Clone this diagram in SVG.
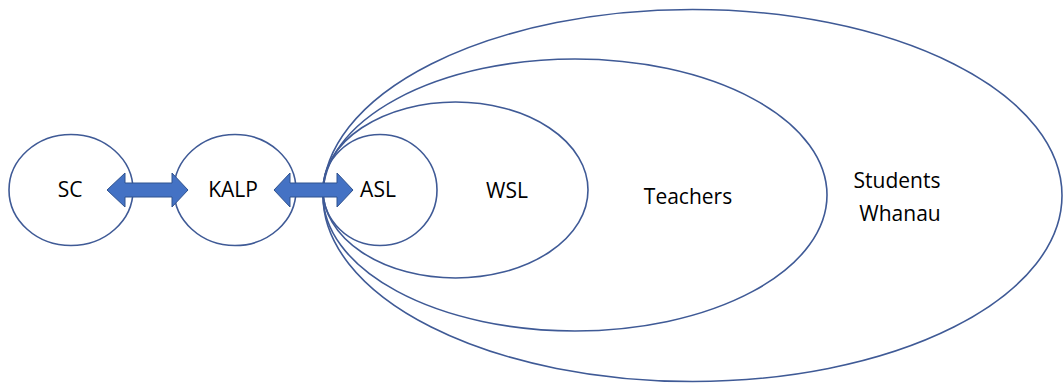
<svg xmlns="http://www.w3.org/2000/svg" width="1063" height="383" viewBox="0 0 1063 383">
<style>
.e{fill:none;stroke:#3F5A96;stroke-width:1.6}
.t{font-family:"Open Sans","Liberation Sans",sans-serif;font-size:21px;fill:#000;text-anchor:middle}
.a{fill:#4472C4;stroke:#2F528F;stroke-width:1}
</style>
<rect width="1063" height="383" fill="#fff"/>
<g id="students"><ellipse class="e" cx="692.5" cy="195.5" rx="369.5" ry="186"/><text class="t" x="897" y="188">Students</text><text class="t" x="900" y="221">Whanau</text></g>
<g id="teachers"><ellipse class="e" cx="575" cy="195" rx="252" ry="136"/><text class="t" x="688" y="204">Teachers</text></g>
<g id="wsl"><ellipse class="e" cx="455.5" cy="190" rx="132.5" ry="88"/><text class="t" x="507" y="198">WSL</text></g>
<g id="asl"><ellipse class="e" cx="380" cy="190" rx="57" ry="55.5"/><text class="t" x="378" y="197">ASL</text></g>
<g id="kalp"><ellipse class="e" cx="235" cy="190" rx="61" ry="55.5"/><text class="t" x="233" y="197">KALP</text></g>
<g id="sc"><ellipse class="e" cx="71" cy="190" rx="62" ry="55.5"/><text class="t" x="70" y="197">SC</text></g>
<g id="connectors">
<path class="a" d="M107,190 L125,173 L125,183 L172,183 L172,173 L188,190 L172,207 L172,197 L125,197 L125,207 Z"/>
<path class="a" d="M274,190 L290,173 L290,183 L337,183 L337,173 L353,190 L337,207 L337,197 L290,197 L290,207 Z"/>
</g>
</svg>
